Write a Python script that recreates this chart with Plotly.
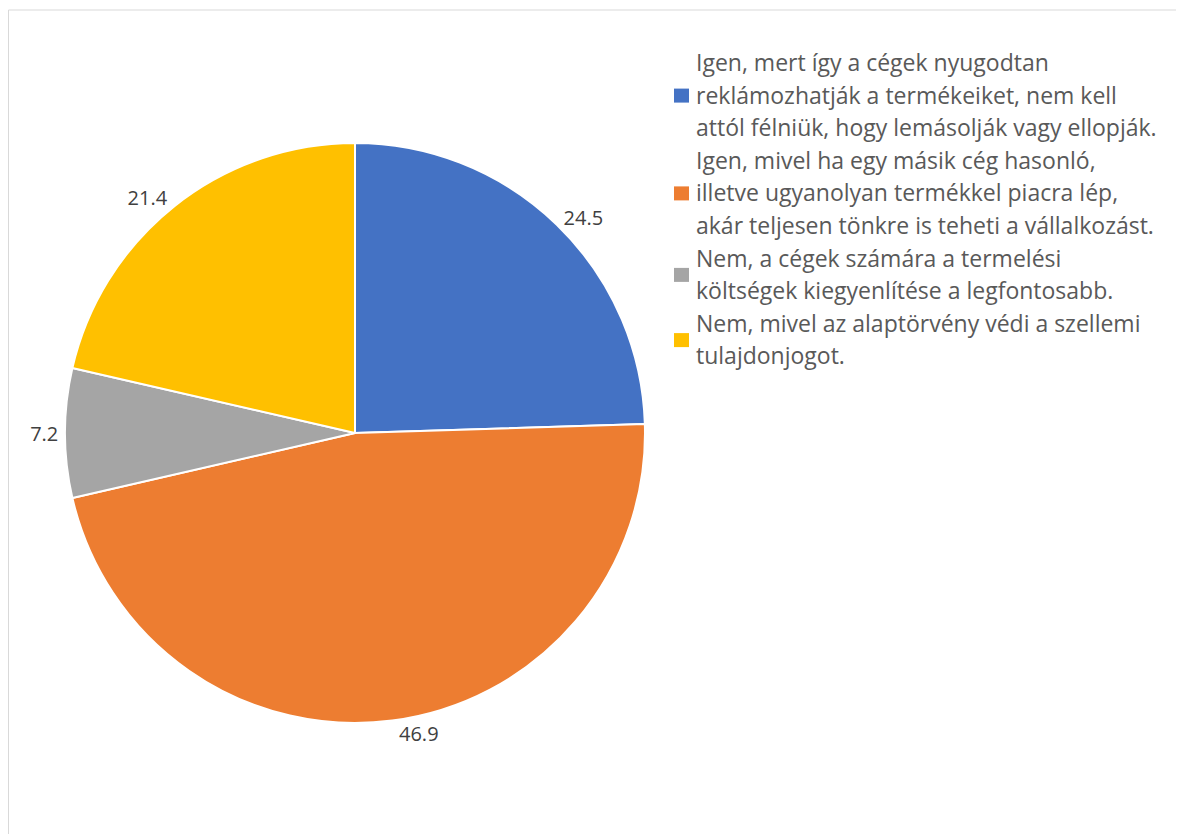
import plotly.graph_objects as go

categories = [
    "Igen, mert így a cégek nyugodtan<br>reklámozhatják a termékeiket, nem kell<br>attól félniük, hogy lemásolják vagy ellopják.",
    "Igen, mivel ha egy másik cég hasonló,<br>illetve ugyanolyan termékkel piacra lép,<br>akár teljesen tönkre is teheti a vállalkozást.",
    "Nem, a cégek számára a termelési<br>költségek kiegyenlítése a legfontosabb.",
    "Nem, mivel az alaptörvény védi a szellemi<br>tulajdonjogot.",
]
values = [24.5, 46.9, 7.2, 21.4]
colors = ["#4472C4", "#ED7D31", "#A5A5A5", "#FFC000"]

W, H = 1184, 834
OFF = 8  # page body margin
FONT = "Open Sans"

def px(x):
    return (x - OFF) / W

def py(y):
    return 1 - (y - OFF) / H

fig = go.Figure()
fig.add_trace(go.Pie(
    labels=categories,
    values=values,
    sort=False,
    direction="clockwise",
    rotation=0,
    marker=dict(colors=colors, line=dict(color="white", width=2)),
    textinfo="value",
    texttemplate="%{value}",
    textposition="outside",
    outsidetextfont=dict(family=FONT, size=20, color="#404040"),
    showlegend=False,
    domain=dict(x=[px(65), px(645)], y=[py(723), py(143)]),
))

shapes = [dict(type="rect", xref="paper", yref="paper",
               x0=px(8.5), x1=1.05, y0=-0.05, y1=py(10),
               line=dict(color="#D9D9D9", width=1), fillcolor="rgba(0,0,0,0)", layer="below")]
annotations = []

# manual legend (Excel-style spacing)
line_pitch = 32.6
y_cursor = 62
for cat, col in zip(categories, colors):
    lines = cat.split("<br>")
    ys = [y_cursor + i * line_pitch for i in range(len(lines))]
    for ln, yy in zip(lines, ys):
        annotations.append(dict(x=px(694), y=py(yy), xref="paper", yref="paper",
                                text=ln, showarrow=False, xanchor="left", yanchor="middle",
                                font=dict(family=FONT, size=23, color="#595959")))
    ym = (ys[0] + ys[-1]) / 2 + 1
    shapes.append(dict(type="rect", xref="paper", yref="paper",
                       x0=px(674), x1=px(689), y0=py(ym + 7), y1=py(ym - 7),
                       fillcolor=col, line=dict(width=0)))
    y_cursor = ys[-1] + line_pitch

fig.update_layout(
    width=W, height=H,
    margin=dict(l=0, r=0, t=0, b=0),
    paper_bgcolor="white",
    plot_bgcolor="white",
    shapes=shapes,
    annotations=annotations,
    font=dict(family=FONT),
)

fig.write_html("out.html")
